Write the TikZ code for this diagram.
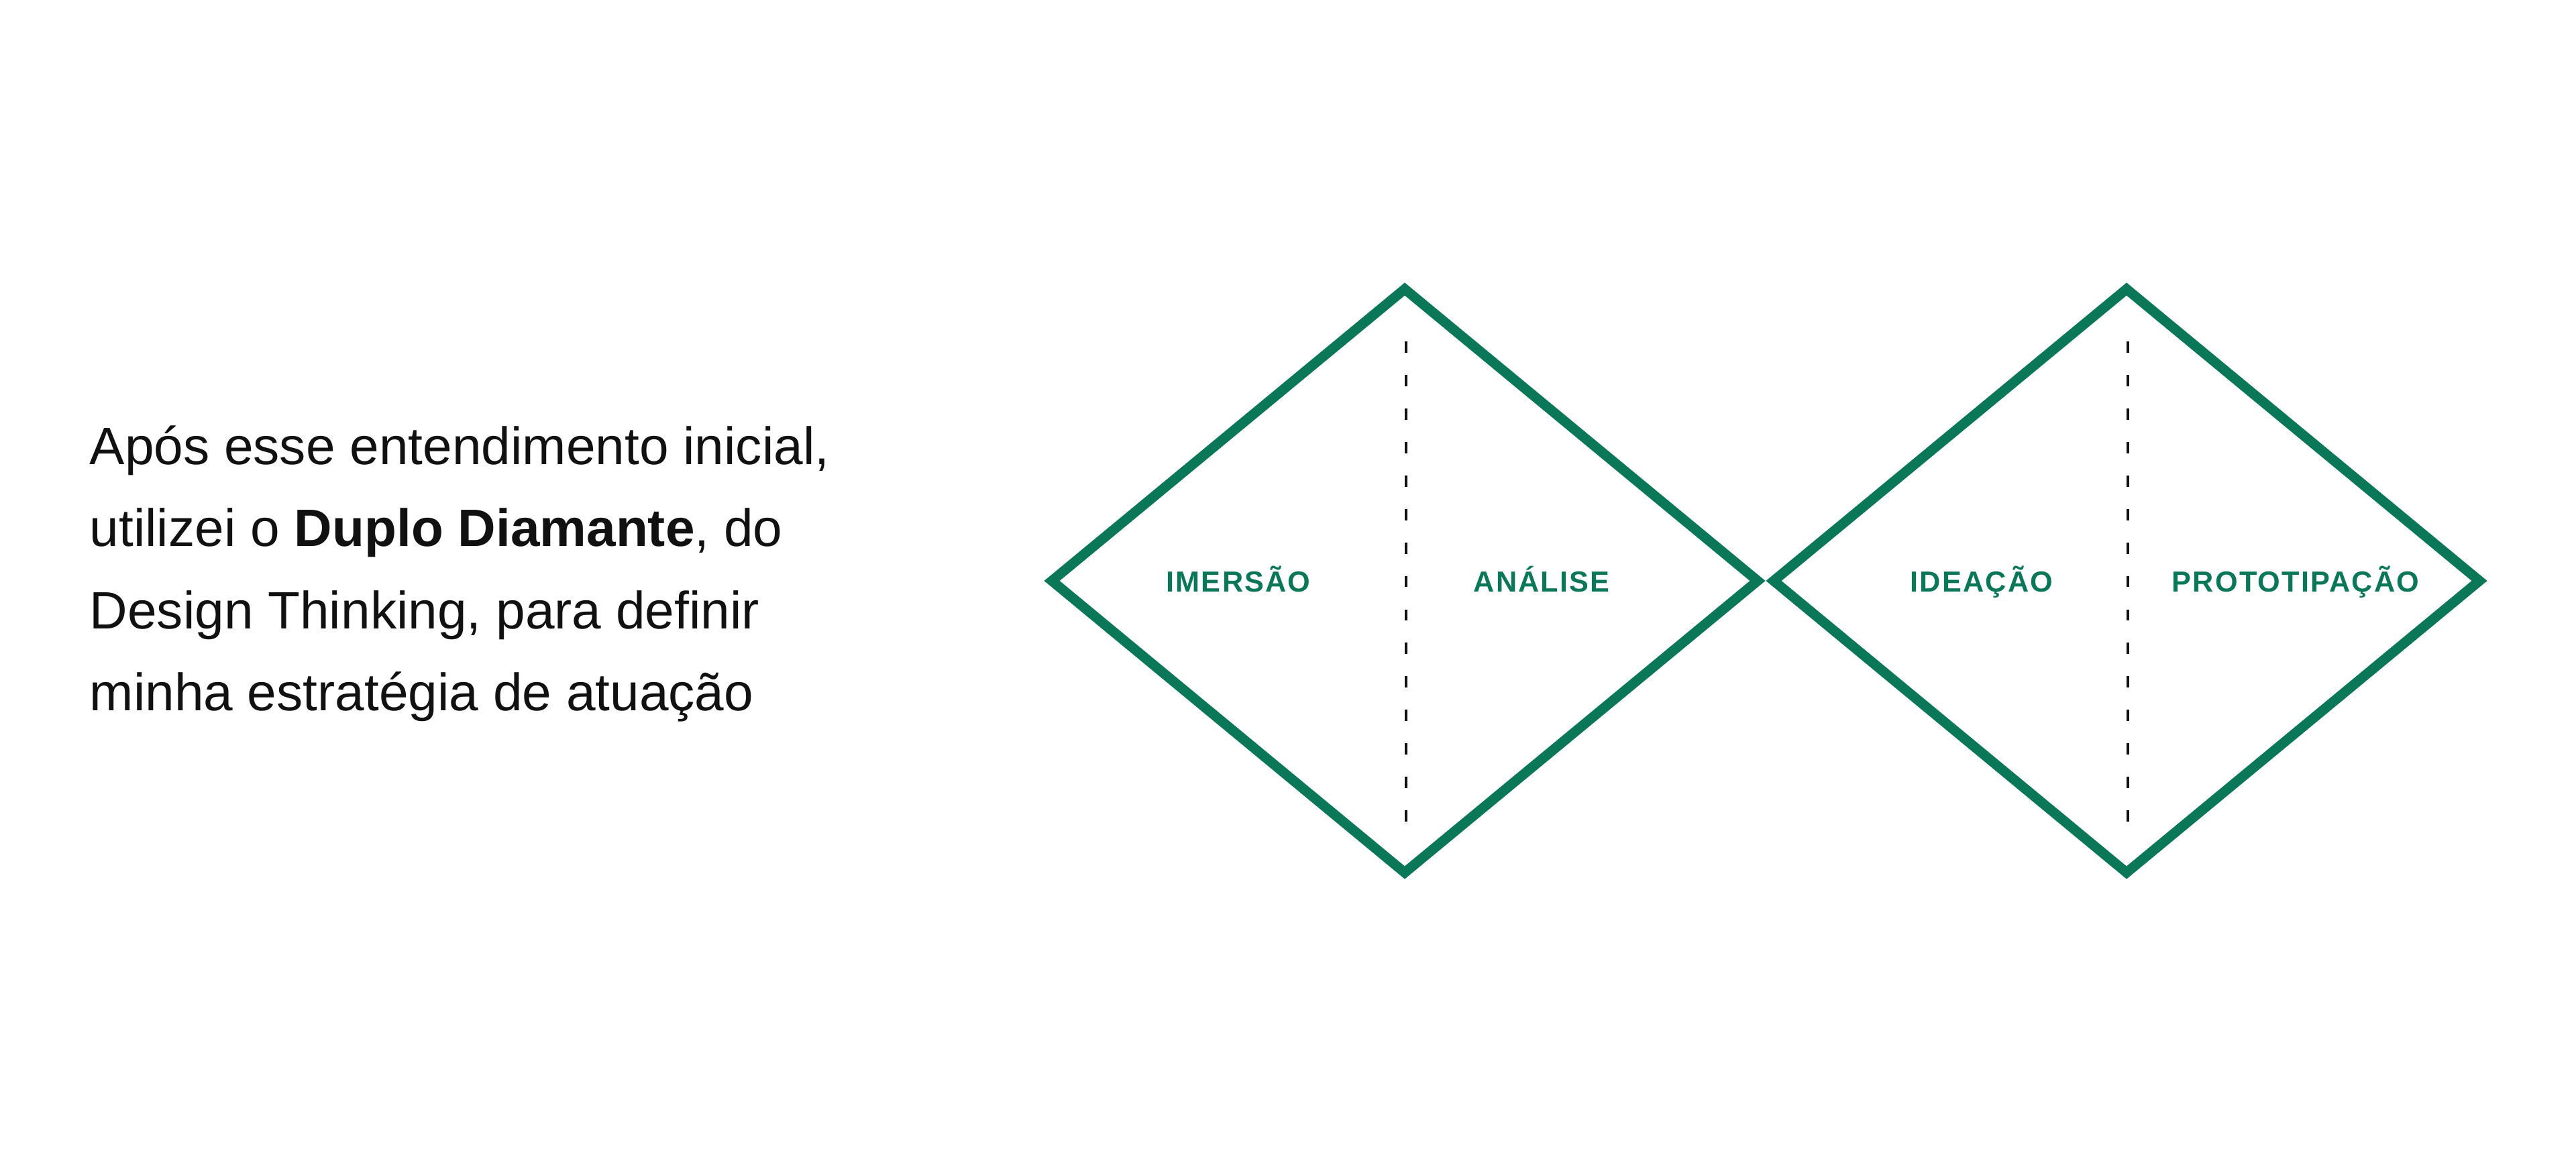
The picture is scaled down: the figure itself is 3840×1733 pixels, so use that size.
\documentclass[tikz,border=0pt]{standalone}
\usepackage{fontspec}
\setmainfont{Liberation Sans}
\newfontfamily\ddlabfont[LetterSpace=5]{Liberation Sans}
\usepackage{xcolor}
\usetikzlibrary{calc,positioning}
\definecolor{DGreen}{RGB}{11,119,89}
\definecolor{InkCol}{RGB}{17,17,17}
\tikzset{
  ddline/.style={line width=4.2pt, draw=DGreen, line join=miter},
  dddash/.style={line width=1.1pt, draw=InkCol, dash pattern=on 4.8pt off 9.4pt},
  ddlab/.style={font=\ddlabfont\fontsize{12.3}{14}\selectfont\bfseries, text=DGreen, inner sep=0pt, anchor=base},
  ddtxt/.style={font=\fontsize{22.3}{26}\selectfont, text=InkCol, inner sep=0pt, anchor=base west}
}

\begin{document}
\begin{tikzpicture}[x=0.01cm,y=-0.01cm]
  \useasboundingbox (0,0) rectangle (3840,1733);
  % texto
  \node[ddtxt] (l1) at (133,692) {Após esse entendimento inicial,};
  \node[ddtxt] (l2) at (133,814.5) {utilizei o \textbf{Duplo Diamante}, do};
  \node[ddtxt] (l3) at (133,937) {Design Thinking, para definir};
  \node[ddtxt] (l4) at (133,1059.5) {minha estratégia de atuação};
  % diamantes
  \coordinate (dl1) at (1568,866); \coordinate (dt1) at (2094,431);
  \coordinate (dr1) at (2620,866); \coordinate (db1) at (2094,1301);
  \coordinate (dl2) at (2644,866); \coordinate (dt2) at (3170,431);
  \coordinate (dr2) at (3696,866); \coordinate (db2) at (3170,1301);
  \draw[ddline] (dl1) -- (dt1) -- (dr1) -- (db1) -- cycle;
  \draw[ddline] (dl2) -- (dt2) -- (dr2) -- (db2) -- cycle;
  \coordinate (s1a) at (2096,509); \coordinate (s1b) at (2096,1237);
  \coordinate (s2a) at (3172,509); \coordinate (s2b) at (3172,1237);
  \draw[dddash] (s1a) -- (s1b);
  \draw[dddash] (s2a) -- (s2b);
  % fases
  \node[ddlab] (imersao) at (1846,882) {IMERSÃO};
  \node[ddlab] (analise) at (2298,882) {ANÁLISE};
  \node[ddlab] (ideacao) at (2954,882) {IDEAÇÃO};
  \node[ddlab] (prototip) at (3422,882) {PROTOTIPAÇÃO};
\end{tikzpicture}
\end{document}
